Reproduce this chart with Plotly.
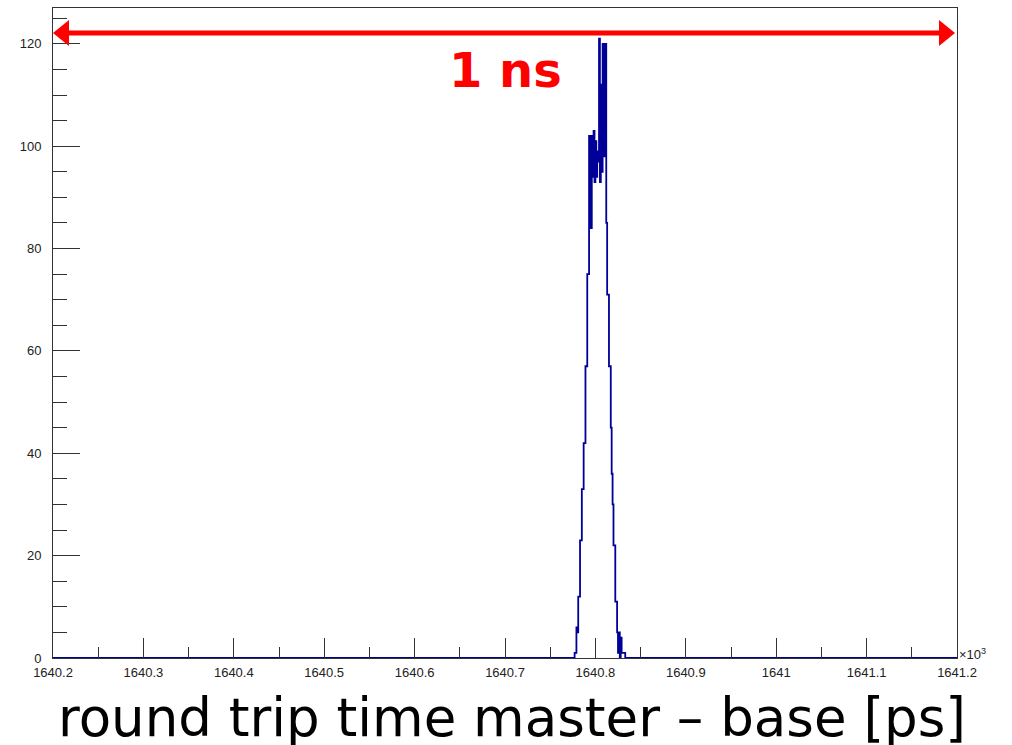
import plotly.graph_objects as go

# ---- data (ROOT-style histogram, 1 ps bins) ----
x_range = [1640.2, 1641.2]          # axis in units of 10^3 ps
first_bin_ps = 1640777              # left edge of first non-empty bin (ps)
bin_width_ps = 1
counts = [1, 1, 6, 5, 12, 12, 23, 23, 33, 33, 42, 42, 57, 57, 75, 75,
          102, 93, 84, 102, 94, 103, 93, 101, 94, 99, 97, 121, 93, 112, 95,
          120, 98, 109, 120, 85, 71, 71, 57, 57, 45, 36, 30, 22, 22, 11, 11,
          5, 1, 5, 0, 4, 1, 1, 1, 1]

x_tickvals = [1640.2, 1640.3, 1640.4, 1640.5, 1640.6, 1640.7, 1640.8,
              1640.9, 1641.0, 1641.1, 1641.2]
x_ticktext = ["1640.2", "1640.3", "1640.4", "1640.5", "1640.6", "1640.7",
              "1640.8", "1640.9", "1641", "1641.1", "1641.2"]
y_tickvals = [0, 20, 40, 60, 80, 100, 120]
y_ticktext = ["0", "20", "40", "60", "80", "100", "120"]

# ---- step outline ----
xs = [x_range[0]]
ys = [0]
for i, c in enumerate(counts):
    left = (first_bin_ps + i * bin_width_ps) / 1000.0
    xs.append(left)
    ys.append(c)
last_edge = (first_bin_ps + len(counts) * bin_width_ps) / 1000.0
xs += [last_edge, x_range[1]]
ys += [0, 0]

fig = go.Figure()
fig.add_trace(go.Scatter(x=xs, y=ys, mode="lines", line_shape="hv",
                         line=dict(color="#000099", width=1.8),
                         hoverinfo="skip", showlegend=False))

axis_col = "#333333"
fig.update_layout(
    width=1012, height=745,
    margin=dict(l=53, r=55, t=8, b=87),
    paper_bgcolor="white", plot_bgcolor="white",
    font=dict(family="Liberation Sans, Arial, sans-serif", size=13, color="#222222"),
    xaxis=dict(range=x_range, tickvals=x_tickvals, ticktext=x_ticktext,
               ticks="inside", ticklen=20, tickwidth=1, tickcolor=axis_col,
               minor=dict(ticks="inside", ticklen=11, dtick=0.05, tickcolor=axis_col, tickwidth=1),
               showline=True, linecolor=axis_col, linewidth=1, mirror=True,
               showgrid=False, zeroline=False, tickfont=dict(size=13),
               ticklabelstandoff=2),
    yaxis=dict(range=[0, 127], tickvals=y_tickvals, ticktext=y_ticktext,
               ticks="inside", ticklen=27, tickwidth=1, tickcolor=axis_col,
               minor=dict(ticks="inside", ticklen=14, dtick=5, tickcolor=axis_col, tickwidth=1),
               showline=True, linecolor=axis_col, linewidth=1, mirror=True,
               showgrid=False, zeroline=False, tickfont=dict(size=13),
               ticklabelstandoff=8),
)

# x10^3 exponent label
fig.add_annotation(xref="paper", yref="paper", x=1.0, y=0.0, xanchor="left",
                   yanchor="bottom", text="×10<sup>3</sup>", showarrow=False,
                   font=dict(size=13, color="#222222"), xshift=0, yshift=-6)

# x-axis title
fig.add_annotation(xref="paper", yref="paper", x=0.508, y=-0.092,
                   xanchor="center", yanchor="middle",
                   text="round trip time master – base [ps]", showarrow=False,
                   font=dict(family="DejaVu Sans", size=53, color="black"))

# 1 ns double arrow (decoration, paper coords)
ay = (658 - 33) / 650.0
head_len = 16 / 904.0
head_half = 13 / 650.0
red = "#ff0000"
fig.add_shape(type="line", xref="paper", yref="paper",
              x0=head_len * 0.8, x1=1 - head_len * 0.8 - 2/904, y0=ay, y1=ay,
              line=dict(color=red, width=5))
fig.add_shape(type="path", xref="paper", yref="paper",
              path=f"M 0 {ay} L {head_len} {ay+head_half} L {head_len} {ay-head_half} Z",
              fillcolor=red, line=dict(color=red, width=0))
xr = 1 - 2/904
fig.add_shape(type="path", xref="paper", yref="paper",
              path=f"M {xr} {ay} L {xr-head_len} {ay+head_half} L {xr-head_len} {ay-head_half} Z",
              fillcolor=red, line=dict(color=red, width=0))
fig.add_annotation(xref="paper", yref="paper", x=(505-53)/904, y=(658-70)/650,
                   xanchor="center", yanchor="middle", text="<b>1 ns</b>",
                   showarrow=False,
                   font=dict(family="DejaVu Sans", size=48, color=red))

fig.write_html("out.html")
